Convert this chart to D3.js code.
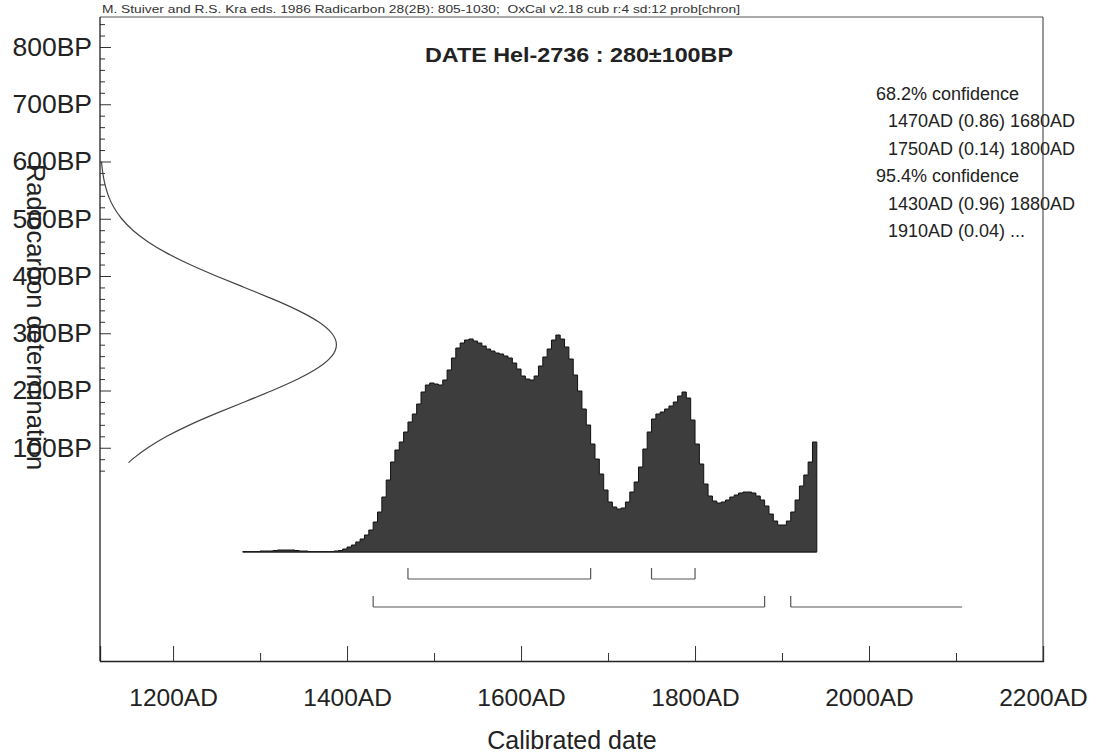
<!DOCTYPE html>
<html><head><meta charset="utf-8">
<script src="https://cdn.jsdelivr.net/npm/d3@7"></script>
<style>body{margin:0;background:#fff}svg{display:block;font-family:"Liberation Sans",Arial,sans-serif}</style>
</head><body>
<script>
// ---------- data ----------
const headerText = "M. Stuiver and R.S. Kra eds. 1986 Radicarbon 28(2B): 805-1030;  OxCal v2.18 cub r:4 sd:12 prob[chron]";
const titleText = "DATE Hel-2736 : 280\u00b1100BP";
const xTicksMajor = [1200, 1400, 1600, 1800, 2000, 2200];
const xTickLabels = ["1200AD", "1400AD", "1600AD", "1800AD", "2000AD", "2200AD"];
const xTicksMinor = [1300, 1500, 1700, 1900, 2100];
const yTicksMajor = [100, 200, 300, 400, 500, 600, 700, 800];
const yTickLabels = ["100BP", "200BP", "300BP", "400BP", "500BP", "600BP", "700BP", "800BP"];
// radiocarbon measurement curve (BP, relative density)
const c14BP = [600, 580, 560, 540, 520, 500, 480, 460, 440, 420, 400, 380, 360, 340, 320, 300, 280, 260, 240, 220, 200, 180, 160, 140, 120, 100, 80, 74];
const c14Dens = [0.006, 0.011, 0.02, 0.034, 0.056, 0.089, 0.135, 0.198, 0.278, 0.375, 0.487, 0.607, 0.726, 0.835, 0.923, 0.98, 1.0, 0.98, 0.923, 0.835, 0.726, 0.607, 0.487, 0.375, 0.278, 0.198, 0.135, 0.12];
// calibrated probability, 5-year bins starting at each year
const calStart = 1280, calStep = 5;
const calProb = [
 0.5,0.5,0.5,0.5,1,1,1,1.5,2,2,2,2,1.5,1,1,0.5,0.5,0.5,0.5,0.5,0.5,1,1.5,
 3,5,7,10,13,17,22,30,40,55,72,90,102,110,120,130,138,148,160,167,169,168,167,172,182,194,204,209,212,213,211,209,206,203,201,199,198,196,194,189,183,176,173,172,176,186,195,203,212,217,213,205,193,177,161,143,127,108,93,78,62,50,45,43,44,50,60,70,85,103,120,133,138,140,143,146,150,156,160,154,132,108,88,68,56,51,49,50,52,55,57,59,60,60,59,56,52,46,38,31,27,27,31,40,52,66,77,90,110];
const range68 = [[1470, 1680], [1750, 1800]];
const range95 = [[1430, 1880, true], [1910, 2107, false]];
const confLines = [
 {t: "68.2% confidence", indent: false},
 {t: "1470AD (0.86) 1680AD", indent: true},
 {t: "1750AD (0.14) 1800AD", indent: true},
 {t: "95.4% confidence", indent: false},
 {t: "1430AD (0.96) 1880AD", indent: true},
 {t: "1910AD (0.04) ...", indent: true}
];

// ---------- layout ----------
const W = 1100, H = 754;
const L = 100, R = 1043, T = 17, B = 661;
const svg = d3.select("body").append("svg").attr("width", W).attr("height", H);

const x = d3.scaleLinear().domain([1116, 2200]).range([L, R]);
const yBP = d3.scaleLinear().domain([0, 800]).range([505, 47]);
const yP = d3.scaleLinear().domain([0, 217]).range([552, 335]);
const xD = d3.scaleLinear().domain([0, 1]).range([L, 338]);

// frame
svg.append("line").attr("x1", L).attr("x2", R).attr("y1", T).attr("y2", T).attr("stroke", "#555").attr("stroke-width", 1.2);
svg.append("line").attr("x1", R).attr("x2", R).attr("y1", T).attr("y2", B).attr("stroke", "#555").attr("stroke-width", 1.2);

// bottom axis
const xAxis = svg.append("g").attr("transform", `translate(0,${B})`)
  .call(d3.axisBottom(x).tickValues(xTicksMajor).tickSize(-15).tickFormat((d, i) => xTickLabels[i]).tickPadding(28));
xAxis.select(".domain").attr("stroke", "#222").attr("stroke-width", 1.3);
xAxis.selectAll(".tick line").attr("stroke", "#333");
xAxis.selectAll("text").attr("font-size", 24.5).attr("fill", "#222").attr("font-family", "Liberation Sans, Arial, sans-serif");
const xMinor = svg.append("g").attr("transform", `translate(0,${B})`)
  .call(d3.axisBottom(x).tickValues(xTicksMinor).tickSize(-8).tickFormat(""));
xMinor.select(".domain").remove();
xMinor.selectAll(".tick line").attr("stroke", "#333");

// left axis
const yMinorVals = d3.range(60, 841, 20).filter(v => v % 100 !== 0);
const yAxis = svg.append("g").attr("transform", `translate(${L},0)`)
  .call(d3.axisLeft(yBP).tickValues(yTicksMajor).tickSize(-11).tickFormat((d, i) => yTickLabels[i]).tickPadding(8));
yAxis.select(".domain").remove();
yAxis.selectAll(".tick line").attr("stroke", "#333");
yAxis.selectAll("text").attr("font-size", 26.5).attr("fill", "#222").attr("font-family", "Liberation Sans, Arial, sans-serif");
const yMinor = svg.append("g").attr("transform", `translate(${L},0)`)
  .call(d3.axisLeft(yBP).tickValues(yMinorVals).tickSize(-5).tickFormat(""));
yMinor.select(".domain").remove();
yMinor.selectAll(".tick line").attr("stroke", "#333");
svg.append("line").attr("x1", L).attr("x2", L).attr("y1", T).attr("y2", B).attr("stroke", "#222").attr("stroke-width", 1.3);

// header & title
svg.append("text").attr("x", 102).attr("y", 13).attr("font-size", 11.5).attr("fill", "#333")
  .attr("textLength", 638).attr("lengthAdjust", "spacingAndGlyphs").style("white-space", "pre").text(headerText);
svg.append("text").attr("x", 425).attr("y", 62).attr("font-size", 20).attr("font-weight", "bold").attr("fill", "#222")
  .attr("textLength", 308).attr("lengthAdjust", "spacingAndGlyphs").text(titleText);

// axis titles
svg.append("text").attr("x", 572).attr("y", 749).attr("text-anchor", "middle").attr("font-size", 25).attr("fill", "#222").text("Calibrated date");
svg.append("text").attr("transform", "translate(27,317) rotate(90)").attr("text-anchor", "middle").attr("font-size", 25.5).attr("fill", "#222").text("Radiocarbon determination");

// radiocarbon curve
const c14Pts = c14BP.map((b, i) => [xD(c14Dens[i]), yBP(b)]);
svg.append("path").attr("d", d3.line().curve(d3.curveBasis)(c14Pts)).attr("fill", "none").attr("stroke", "#444").attr("stroke-width", 1.2);

// calibrated distribution
const calData = calProb.map((p, i) => ({yr: calStart + i * calStep, p}));
calData.push({yr: calStart + calProb.length * calStep, p: calProb[calProb.length - 1]});
const area = d3.area().curve(d3.curveStepAfter).x(d => x(d.yr)).y0(yP(0)).y1(d => yP(d.p));
svg.append("path").attr("d", area(calData)).attr("fill", "#3d3d3d").attr("stroke", "none");
const topLine = d3.line().curve(d3.curveStepAfter).x(d => x(d.yr)).y(d => yP(d.p));
svg.append("path").attr("d", topLine(calData)).attr("fill", "none").attr("stroke", "#111").attr("stroke-width", 1);
const lastYr = calStart + calProb.length * calStep;
svg.append("line").attr("x1", x(lastYr)).attr("x2", x(lastYr)).attr("y1", yP(0)).attr("y2", yP(calProb[calProb.length - 1])).attr("stroke", "#111");
svg.append("line").attr("x1", x(calStart)).attr("x2", x(lastYr)).attr("y1", yP(0)).attr("y2", yP(0)).attr("stroke", "#222").attr("stroke-width", 1.3);

// range brackets
function bracket(r, yy, closed) {
  const g = svg.append("g").attr("stroke", "#555").attr("stroke-width", 1.2).attr("fill", "none");
  g.append("line").attr("x1", x(r[0])).attr("x2", x(r[1])).attr("y1", yy).attr("y2", yy);
  g.append("line").attr("x1", x(r[0])).attr("x2", x(r[0])).attr("y1", yy).attr("y2", yy - 11);
  if (closed) g.append("line").attr("x1", x(r[1])).attr("x2", x(r[1])).attr("y1", yy).attr("y2", yy - 11);
}
range68.forEach(r => bracket(r, 579, true));
range95.forEach(r => bracket(r, 607, r[2]));

// confidence text
confLines.forEach((c, i) => {
  svg.append("text").attr("x", c.indent ? 888 : 876).attr("y", 100 + i * 27.4)
    .attr("font-size", 18).attr("fill", "#222").text(c.t);
});
</script>
</body></html>
